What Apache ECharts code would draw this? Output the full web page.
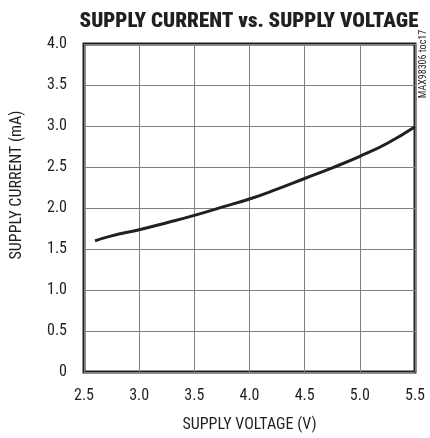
<!DOCTYPE html>
<html><head><meta charset="utf-8">
<script src="https://cdn.jsdelivr.net/npm/echarts@6/dist/echarts.min.js"></script>
<style>html,body{margin:0;padding:0;background:#fff}#c{width:430px;height:438px}</style>
</head><body><div id="c"></div>
<script>
const voltage = [2.6, 2.75, 3.0, 3.25, 3.5, 3.75, 4.0, 4.25, 4.5, 4.75, 5.0, 5.25, 5.5];
const current = [1.60, 1.66, 1.735, 1.82, 1.91, 2.01, 2.11, 2.23, 2.36, 2.49, 2.63, 2.79, 2.99];
const xTicks = ['2.5','3.0','3.5','4.0','4.5','5.0','5.5'];
const yTicks = ['0','0.5','1.0','1.5','2.0','2.5','3.0','3.5','4.0'];
const FONT = '"Roboto Condensed", "DejaVu Sans Condensed", sans-serif';
const INK = '#231f20';
const chart = echarts.init(document.getElementById('c'));
chart.setOption({
  animation: false,
  title: { text: 'SUPPLY CURRENT vs. SUPPLY VOLTAGE', left: 244, top: 6, textAlign: 'center',
    textStyle: { fontFamily: FONT, fontWeight: 900, fontSize: 21, color: INK } },
  grid: { left: 84, right: 15, top: 44, bottom: 64, show: true, borderColor: INK, borderWidth: 3 },
  xAxis: { type: 'value', min: 2.5, max: 5.5, interval: 0.5,
    name: 'SUPPLY VOLTAGE (V)', nameLocation: 'middle', nameGap: 45,
    nameTextStyle: { fontFamily: FONT, fontSize: 16, color: INK },
    axisLine: { show: false }, axisTick: { show: false },
    axisLabel: { fontFamily: FONT, fontSize: 16, color: INK, margin: 16,
      formatter: v => xTicks[Math.round((v - 2.5) / 0.5)] },
    splitLine: { show: true, lineStyle: { color: '#808080', width: 1 } } },
  yAxis: { type: 'value', min: 0, max: 4, interval: 0.5,
    name: 'SUPPLY CURRENT (mA)', nameLocation: 'middle', nameGap: 59,
    nameTextStyle: { fontFamily: FONT, fontSize: 16, color: INK, padding: [0, 0, 0, 46] },
    axisLine: { show: false }, axisTick: { show: false },
    axisLabel: { fontFamily: FONT, fontSize: 16, color: INK, margin: 17,
      formatter: v => yTicks[Math.round(v / 0.5)] },
    splitLine: { show: true, lineStyle: { color: '#808080', width: 1 } } },
  graphic: [{ type: 'text', x: 423, y: 64, rotation: Math.PI / 2,
    style: { text: 'MAX98306 toc17', fontFamily: FONT, fontSize: 10, fill: INK,
      align: 'center', verticalAlign: 'middle' } }],
  series: [{ type: 'line', data: voltage.map((v, i) => [v, current[i]]), smooth: true,
    showSymbol: false, lineStyle: { color: INK, width: 3 } }]
});
</script></body></html>
